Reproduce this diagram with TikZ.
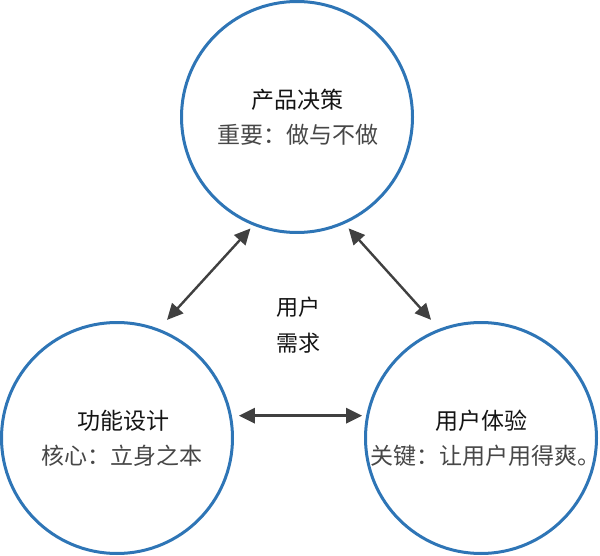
\documentclass[tikz,border=0pt]{standalone}
\usepackage{fontspec}
\setmainfont{Noto Sans CJK SC}
\usetikzlibrary{arrows.meta}
\definecolor{ringblue}{HTML}{2E75B6}
\definecolor{arrowgray}{HTML}{404040}

\begin{document}
\begin{tikzpicture}[x=1pt,y=-1pt,
    ring/.style={circle,draw=ringblue,line width=3pt,minimum size=231pt,inner sep=0pt},
    title/.style={font=\fontsize{23}{26}\selectfont,text=black!92,inner sep=0pt},
    sub/.style={font=\fontsize{23}{26}\selectfont,text=black!72,inner sep=0pt},
    link/.style={<->,>={Triangle[length=16pt,width=15pt]},draw=arrowgray}]
    \useasboundingbox (0,0) rectangle (600,556);

    %Circles
    \node[ring] (decide) at (297,117) {};
    \node[ring] (func) at (117,438) {};
    \node[ring] (ux) at (481,438) {};

    %Texts
    \node[title] (decideT) at (297,100) {产品决策};
    \node[sub] (decideS) at (298,135) {重要：做与不做};
    \node[title] (funcT) at (123,421) {功能设计};
    \node[sub] (funcS) at (122,456) {核心：立身之本};
    \node[title] (uxT) at (481,421) {用户体验};
    \node[sub] (uxS) at (485,456) {关键：让用户用得爽。};
    \node[title,font=\fontsize{22}{26}\selectfont,align=center] (need) at (298,325) {用户\\[10pt]需求};

    %Arrows
    \draw[link,line width=2.4pt,shorten <=4pt,shorten >=12pt] (decide.248) -- (func.69);
    \draw[link,line width=2.4pt,shorten <=6pt,shorten >=12pt] (decide.294) -- (ux.111);
    \draw[link,line width=3.2pt,shorten <=7pt,shorten >=4pt] (func.11) -- (ux.169);
\end{tikzpicture}
\end{document}
